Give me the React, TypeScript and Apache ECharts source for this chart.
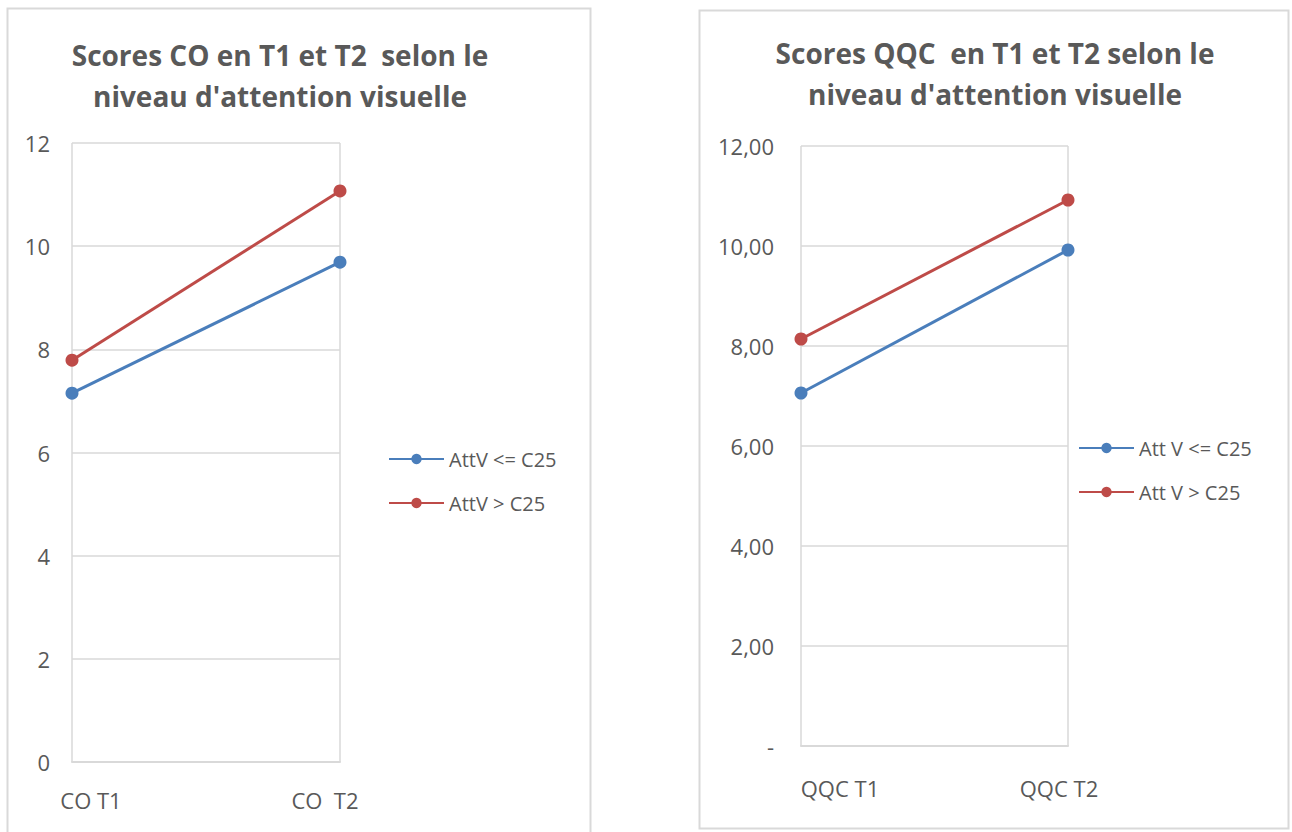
import React, { useEffect, useRef } from "react";
import * as echarts from "echarts";

const coCategories = ["CO T1", "CO  T2"];
const qqcCategories = ["QQC T1", "QQC T2"];
const coLow = [7.15, 9.69];
const coHigh = [7.79, 11.07];
const qqcLow = [7.06, 9.92];
const qqcHigh = [8.14, 10.92];
const coNames = ["AttV <= C25", "AttV > C25"];
const qqcNames = ["Att V <= C25", "Att V > C25"];
const coTitle = "Scores CO en T1 et T2  selon le\nniveau d'attention visuelle";
const qqcTitle = "Scores QQC  en T1 et T2 selon le\nniveau d'attention visuelle";

const BLUE = "#4A7EBB";
const RED = "#BE4B48";
const TXT = "#595959";
const GRID = "#d9d9d9";
const FONT = "'Open Sans', 'Liberation Sans', sans-serif";

export default function App() {
  const ref = useRef<HTMLDivElement>(null);
  useEffect(() => {
    document.body.style.margin = "0";
    const chart = echarts.init(ref.current!, null, { renderer: "svg" });
    const lineSeries = (name: string, data: number[], color: string, idx: number) => ({
      type: "line",
      name,
      data,
      xAxisIndex: idx,
      yAxisIndex: idx,
      color,
      symbol: "circle",
      symbolSize: 13,
      lineStyle: { width: 3, color },
      itemStyle: { color },
    });
    const catAxis = (data: string[], idx: number, margin: number, padL: number, padR: number) => ({
      type: "category",
      gridIndex: idx,
      data,
      boundaryGap: false,
      axisLine: { lineStyle: { color: GRID, width: 2 } },
      axisTick: { show: false },
      splitLine: { show: true, lineStyle: { color: GRID, width: 1.5 } },
      axisLabel: {
        color: TXT,
        fontSize: 22,
        margin,
        fontFamily: FONT,
        formatter: (v: string, i: number) => (i === 0 ? `{a|${v}}` : `{b|${v}}`),
        rich: {
          a: { color: TXT, fontSize: 22, fontFamily: FONT, padding: [0, 0, 0, padL] },
          b: { color: TXT, fontSize: 22, fontFamily: FONT, padding: [0, padR, 0, 0] },
        },
      },
    });
    const titleStyle = {
      fontSize: 28,
      fontWeight: "bold",
      color: TXT,
      lineHeight: 41,
      fontFamily: FONT,
      align: "center",
    };
    const legendText = { color: TXT, fontSize: 20, fontFamily: FONT };
    chart.setOption({
      animation: false,
      textStyle: { fontFamily: FONT },
      title: [
        { text: coTitle, left: 275, top: 29, textAlign: "center", textStyle: titleStyle },
        { text: qqcTitle, left: 990, top: 27, textAlign: "center", textStyle: titleStyle },
      ],
      legend: [
        {
          data: coNames,
          orient: "vertical",
          left: 383,
          top: 444,
          itemWidth: 55,
          itemHeight: 13,
          itemGap: 24,
          textStyle: legendText,
        },
        {
          data: qqcNames,
          orient: "vertical",
          left: 1073,
          top: 433,
          itemWidth: 55,
          itemHeight: 13,
          itemGap: 24,
          textStyle: legendText,
        },
      ],
      grid: [
        { left: 72, top: 143, width: 268, height: 619 },
        { left: 801, top: 146, width: 267, height: 600 },
      ],
      xAxis: [
        catAxis(coCategories, 0, 27, 38, 30),
        catAxis(qqcCategories, 1, 31, 78, 18),
      ],
      yAxis: [
        {
          type: "value",
          gridIndex: 0,
          min: 0,
          max: 12,
          interval: 2,
          axisLine: { show: false },
          axisTick: { show: false },
          splitLine: { lineStyle: { color: GRID, width: 1.5 } },
          axisLabel: { color: TXT, fontSize: 22, margin: 22, fontFamily: FONT },
        },
        {
          type: "value",
          gridIndex: 1,
          min: 0,
          max: 12,
          interval: 2,
          axisLine: { show: false },
          axisTick: { show: false },
          splitLine: { lineStyle: { color: GRID, width: 1.5 } },
          axisLabel: {
            color: TXT,
            fontSize: 22,
            margin: 27,
            fontFamily: FONT,
            formatter: (v: number) => (v === 0 ? "-" : v.toFixed(2).replace(".", ",")),
          },
        },
      ],
      series: [
        lineSeries(coNames[0], coLow, BLUE, 0),
        lineSeries(coNames[1], coHigh, RED, 0),
        lineSeries(qqcNames[0], qqcLow, BLUE, 1),
        lineSeries(qqcNames[1], qqcHigh, RED, 1),
      ],
      graphic: [
        {
          type: "rect",
          shape: { x: 7.5, y: 8.5, width: 583, height: 830 },
          style: { fill: "none", stroke: GRID, lineWidth: 2 },
          silent: true,
        },
        {
          type: "rect",
          shape: { x: 699.5, y: 10.5, width: 589, height: 818 },
          style: { fill: "none", stroke: GRID, lineWidth: 2 },
          silent: true,
        },
      ],
    });
    return () => chart.dispose();
  }, []);
  return <div ref={ref} style={{ width: 1292, height: 832 }} />;
}
